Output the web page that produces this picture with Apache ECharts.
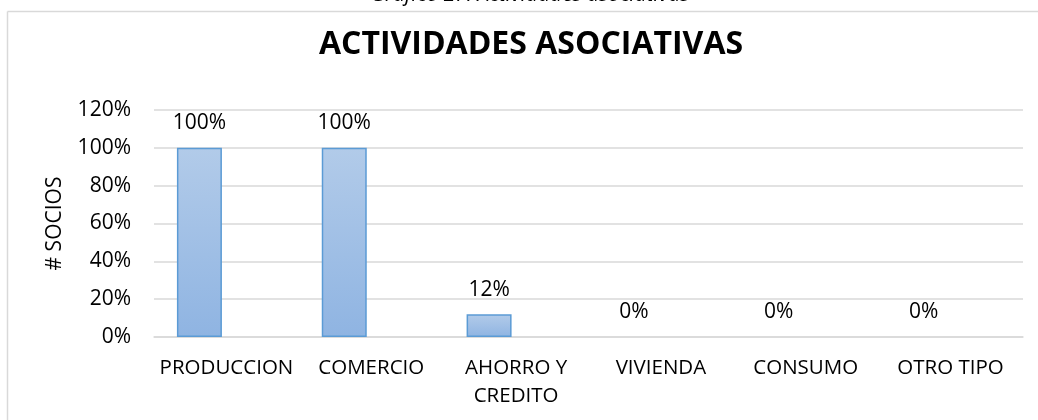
<!DOCTYPE html>
<html>
<head>
<meta charset="utf-8">
<script src="https://cdn.jsdelivr.net/npm/echarts@6/dist/echarts.min.js"></script>
<style>
html,body{margin:0;padding:0;background:#fff;}
#chart{width:1038px;height:420px;}
</style>
</head>
<body>
<div id="chart"></div>
<script>
var categories = ['PRODUCCION', 'COMERCIO', 'AHORRO Y\nCREDITO', 'VIVIENDA', 'CONSUMO', 'OTRO TIPO'];
var values = [1.00, 1.00, 0.12, 0.00, 0.00, 0.00];
var yTicks = [0, 0.2, 0.4, 0.6, 0.8, 1.0, 1.2];
var titleText = 'ACTIVIDADES ASOCIATIVAS';
var captionText = 'Gráfico 27: Actividades asociativas';
var yName = '# SOCIOS';

var FONT = 'Open Sans';
var chart = echarts.init(document.getElementById('chart'));
var pct = function (v) { return Math.round(v * 100) + '%'; };

var option = {
  animation: false,
  textStyle: { fontFamily: FONT },
  title: {
    text: titleText,
    left: 526, top: 24, textAlign: 'center',
    textStyle: { fontFamily: FONT, fontWeight: 'bold', fontSize: 32, color: '#000' }
  },
  graphic: [
    { type: 'text', x: 530, y: 6, style: { text: captionText, font: 'italic 21px "Open Sans"', fill: '#000', align: 'center', verticalAlign: 'bottom' } },
    { type: 'line', shape: { x1: 7.5, y1: 11.5, x2: 1038, y2: 11.5 }, style: { stroke: '#d9d9d9', lineWidth: 1.5 } },
    { type: 'line', shape: { x1: 7.5, y1: 11.5, x2: 7.5, y2: 420 }, style: { stroke: '#d9d9d9', lineWidth: 1.5 } }
  ],
  grid: [
    { left: 154, right: 15, top: 110, bottom: 83 },
    { left: 127, right: 42, top: 110, bottom: 83 }
  ],
  xAxis: [
    {
      type: 'category', gridIndex: 0, data: categories,
      axisLine: { show: true, lineStyle: { color: '#d9d9d9', width: 1.5 } },
      axisTick: { show: false },
      axisLabel: { interval: 0, hideOverlap: false, color: '#000', fontSize: 20.5, margin: 17, lineHeight: 28, fontFamily: FONT }
    },
    {
      type: 'category', gridIndex: 1, data: categories,
      axisLine: { show: false }, axisTick: { show: false }, axisLabel: { show: false }
    }
  ],
  yAxis: [
    {
      type: 'value', gridIndex: 0, min: yTicks[0], max: yTicks[yTicks.length - 1], interval: 0.2,
      name: yName, nameLocation: 'middle', nameGap: 88, nameRotate: 90,
      nameTextStyle: { color: '#000', fontSize: 21, fontFamily: FONT },
      axisLine: { show: false }, axisTick: { show: false },
      axisLabel: { formatter: pct, color: '#000', fontSize: 21, margin: 23, fontFamily: FONT },
      splitLine: { lineStyle: { color: '#d9d9d9', width: 1.5 } }
    },
    {
      type: 'value', gridIndex: 1, min: yTicks[0], max: yTicks[yTicks.length - 1], interval: 0.2,
      show: false, splitLine: { show: false }
    }
  ],
  series: [{
    type: 'bar', xAxisIndex: 1, yAxisIndex: 1,
    barWidth: 45,
    data: values.map(function (v) { return v === 0 ? { value: v, itemStyle: { borderWidth: 0, color: 'rgba(0,0,0,0)' } } : v; }),
    itemStyle: {
      color: new echarts.graphic.LinearGradient(0, 0, 0, 1, [
        { offset: 0, color: '#b2cbe9' },
        { offset: 1, color: '#8fb4e2' }
      ]),
      borderColor: '#5b9bd5', borderWidth: 1.5
    },
    label: {
      show: true, position: 'top', distance: 14, formatter: function (p) { return pct(p.value); },
      color: '#000', fontSize: 21, fontFamily: FONT
    }
  }]
};
chart.setOption(option);
</script>
</body>
</html>
